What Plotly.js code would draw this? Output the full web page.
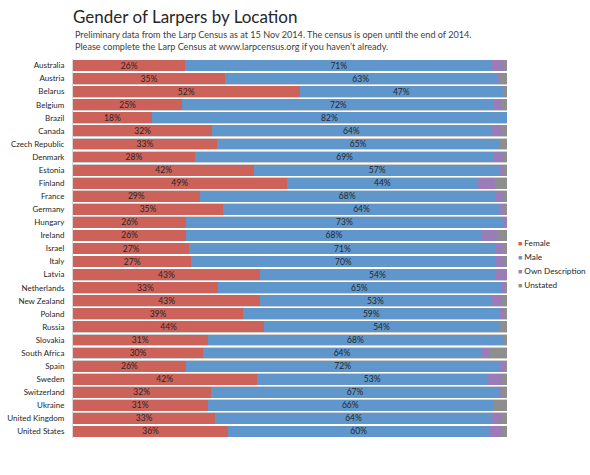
<!DOCTYPE html>
<html>
<head>
<meta charset="utf-8">
<script src="https://cdn.plot.ly/plotly-3.0.1.min.js"></script>
<style>html,body{margin:0;padding:0;background:#fff;}#chart{width:590px;height:475px;}</style>
</head>
<body>
<div id="chart"></div>
<script>
var countries = ["Australia","Austria","Belarus","Belgium","Brazil","Canada","Czech Republic","Denmark","Estonia","Finland","France","Germany","Hungary","Ireland","Israel","Italy","Latvia","Netherlands","New Zealand","Poland","Russia","Slovakia","South Africa","Spain","Sweden","Switzerland","Ukraine","United Kingdom","United States"];
var female = [25.9,35.0,52.2,25.2,18.2,32.1,33.2,28.1,41.8,49.2,29.2,34.6,26.1,26.1,26.8,27.3,43.1,33.4,43.2,39.2,44.1,31.0,30.0,26.0,42.3,31.7,31.0,32.8,35.8];
var male = [70.7,62.6,46.9,71.9,81.8,64.1,65.0,69.0,56.6,44.2,68.0,63.8,72.9,68.1,70.6,70.0,54.1,65.2,53.0,59.1,54.0,68.2,64.0,72.3,53.3,66.6,65.8,63.7,60.1];
var ownDescription = [2.7,0.9,0.0,1.6,0.0,2.4,0.3,2.1,0.8,3.9,2.0,0.6,1.0,3.5,1.7,2.1,2.8,1.0,2.4,0.9,0.2,0.0,1.9,1.2,3.2,0.3,0.0,2.3,3.0];
var unstated = [0.7,1.5,0.9,1.3,0.0,1.4,1.5,0.8,0.8,2.7,0.8,1.0,0.0,2.3,0.9,0.6,0.0,0.4,1.4,0.8,1.7,0.8,4.1,0.5,1.2,1.4,3.2,1.2,1.1];
var seriesNames = ["Female","Male","Own Description","Unstated"];
var seriesColors = ["#CC6259","#5F96CC","#9A7CB9","#8E8E8E"];

var totals = countries.map(function(c,i){return female[i]+male[i]+ownDescription[i]+unstated[i];});
var FONT = "Lato, 'Open Sans', sans-serif";

var traces = [{
  type:'bar', orientation:'h', y:countries, x:totals, xaxis:'x', yaxis:'y',
  marker:{color:'#ffffff', line:{color:'#cfcfcf', width:1}},
  showlegend:false, hoverinfo:'skip'
}];
[female, male, ownDescription, unstated].forEach(function(vals, k){
  var t = {
    type:'bar', orientation:'h', y:countries, x:vals, name:seriesNames[k],
    xaxis:'x2', yaxis:'y',
    marker:{color:seriesColors[k], line:{width:0}},
    hoverinfo:'name+x', showlegend:false
  };
  if (k < 2) {
    t.texttemplate = '%{x:.0f}%';
    t.textposition = 'inside';
    t.insidetextanchor = 'middle';
    t.constraintext = 'none';
    t.textangle = 0;
    t.textfont = {family:FONT, size:8.5, color:'#262626'};
  } else {
    t.text = '';
    t.textposition = 'none';
  }
  traces.push(t);
});

// plot area: x 73..507, y 59..438
var plotTop = 59, plotBottom = 438, plotH = plotBottom - plotTop;
function py(pix){ return (plotBottom - pix) / plotH; }

var annotations = [
  {text:'Preliminary data from the Larp Census as at 15 Nov 2014. The census is open until the end of 2014.',
   xref:'paper', yref:'paper', x:0, y:py(34.5), xanchor:'left', yanchor:'middle', showarrow:false,
   font:{family:FONT, size:9.1, color:'#404040'}},
  {text:'Please complete the Larp Census at www.larpcensus.org if you haven\u2019t already.',
   xref:'paper', yref:'paper', x:0, y:py(46.5), xanchor:'left', yanchor:'middle', showarrow:false,
   font:{family:FONT, size:9.1, color:'#404040'}}
];
// legend entries
seriesNames.forEach(function(n, k){
  annotations.push({
    text:'<span style="color:' + seriesColors[k] + ';font-size:7px">\u25A0</span> ' + n,
    xref:'paper', yref:'paper', x:(516-73)/434, y:py(243 + 14*k), xanchor:'left', yanchor:'middle',
    showarrow:false, font:{family:FONT, size:8.2, color:'#262626'}
  });
});

var layout = {
  width:590, height:475,
  margin:{l:73, r:83, t:plotTop, b:475-plotBottom, pad:0},
  paper_bgcolor:'#ffffff', plot_bgcolor:'#ffffff',
  barmode:'stack', bargap:0.17,
  font:{family:FONT, color:'#262626'},
  title:{text:'Gender of Larpers by Location', font:{family:FONT, size:17, color:'#262626'},
         xref:'paper', x:0, xanchor:'left', yref:'container', y:1-17/475, yanchor:'middle'},
  annotations:annotations,
  xaxis:{range:[0,100], visible:false, fixedrange:true},
  xaxis2:{range:[0,100], visible:false, overlaying:'x', fixedrange:true},
  yaxis:{type:'category', autorange:'reversed', showgrid:false, zeroline:false,
         showline:true, linecolor:'#d9d9d9', linewidth:1, ticks:'', ticklabelstandoff:6,
         tickfont:{family:FONT, size:8, color:'#262626'}},
  showlegend:false
};

Plotly.newPlot('chart', traces, layout, {displayModeBar:false, staticPlot:true});
</script>
</body>
</html>
